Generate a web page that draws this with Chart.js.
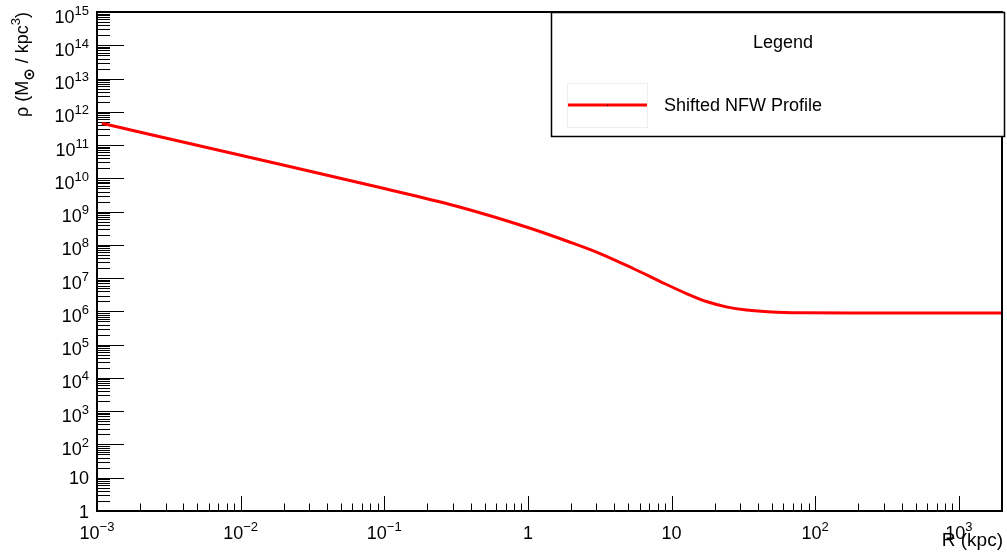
<!DOCTYPE html>
<html>
<head>
<meta charset="utf-8">
<script src="https://cdn.jsdelivr.net/npm/chart.js@4.4.1/dist/chart.umd.min.js"></script>
<style>
  html, body { margin: 0; padding: 0; background: #fff; }
  #wrap { width: 1007px; height: 560px; }
</style>
</head>
<body>
<div id="wrap"><canvas id="profile" width="1007" height="560"></canvas></div>
<script>
// density profile: radius in kpc, density in M_sun / kpc^3
const radius  = [0.00108, 0.01, 0.1, 0.315, 1.0, 1.905, 3.24, 5.50, 8.49, 12.7, 17.5, 24.1, 33.3, 49.7, 80.5, 180, 2000];
const density = [4.50e11, 4.94e10, 4.93e9, 1.47e9, 3.32e8, 1.26e8, 5.31e7, 1.88e7, 7.64e6, 3.44e6, 1.98e6, 1.37e6, 1.10e6, 9.58e5, 9.06e5, 8.94e5, 8.94e5];

// axis decades and their labels ("base^exponent")
const xDecades = [-3, -2, -1, 0, 1, 2, 3];
const xTickLabels = ['10^−3', '10^−2', '10^−1', '1', '10', '10^2', '10^3'];
const yDecades = [0, 1, 2, 3, 4, 5, 6, 7, 8, 9, 10, 11, 12, 13, 14, 15];
const yTickLabels = ['1', '10', '10^2', '10^3', '10^4', '10^5', '10^6', '10^7', '10^8', '10^9',
                     '10^10', '10^11', '10^12', '10^13', '10^14', '10^15'];

const FONT = '"Liberation Sans", Arial, Helvetica, sans-serif';
const BASE_SIZE = 18;
const SUP_SIZE = 13;

// draws "10^n" style text; align is 'right' or 'center'
function drawPower(ctx, label, x, y, align) {
  const parts = label.split('^');
  ctx.font = BASE_SIZE + 'px ' + FONT;
  const wBase = ctx.measureText(parts[0]).width;
  let wSup = 0;
  if (parts[1]) {
    ctx.font = SUP_SIZE + 'px ' + FONT;
    wSup = ctx.measureText(parts[1]).width;
  }
  const total = wBase + wSup;
  let x0 = align === 'right' ? x - total : x - total / 2;
  ctx.textAlign = 'left';
  ctx.textBaseline = 'alphabetic';
  ctx.font = BASE_SIZE + 'px ' + FONT;
  ctx.fillText(parts[0], x0, y);
  if (parts[1]) {
    ctx.font = SUP_SIZE + 'px ' + FONT;
    ctx.fillText(parts[1], x0 + wBase, y - 8);
  }
}

const rootAxes = {
  id: 'rootAxes',
  beforeDatasetsDraw(chart) {
    const { ctx, chartArea: a, scales: { x, y } } = chart;
    ctx.save();
    ctx.strokeStyle = '#000';
    ctx.lineWidth = 1;
    ctx.beginPath();
    // y ticks: major + 2..9 minors per decade, drawn inward from the left axis
    yDecades.forEach(e => {
      for (let k = 1; k <= 9; k++) {
        const v = k * Math.pow(10, e);
        if (v > y.max) break;
        const py = Math.round(y.getPixelForValue(v)) + 0.5;
        const len = k === 1 ? 27 : 13;
        ctx.moveTo(a.left, py);
        ctx.lineTo(a.left + len, py);
      }
    });
    // x ticks
    xDecades.forEach(e => {
      for (let k = 1; k <= 9; k++) {
        const v = k * Math.pow(10, e);
        if (v > x.max) break;
        const px = Math.round(x.getPixelForValue(v)) + 0.5;
        const len = k === 1 ? 15 : 7.5;
        ctx.moveTo(px, a.bottom);
        ctx.lineTo(px, a.bottom - len);
      }
    });
    ctx.stroke();
    ctx.restore();
  },
  afterDraw(chart) {
    const { ctx, chartArea: a, scales: { x, y } } = chart;
    ctx.save();
    ctx.fillStyle = '#000';

    // frame
    ctx.strokeStyle = '#000';
    ctx.lineWidth = 2;
    ctx.strokeRect(a.left, a.top, a.right - a.left, a.bottom - a.top);

    // tick labels
    yDecades.forEach((e, i) => {
      const py = y.getPixelForValue(Math.pow(10, e));
      const lab = yTickLabels[i];
      drawPower(ctx, lab, 89, py + (lab.includes('^') ? 10.5 : 6.5), 'right');
    });
    xDecades.forEach((e, i) => {
      const px = x.getPixelForValue(Math.pow(10, e));
      drawPower(ctx, xTickLabels[i], px, 539, 'center');
    });

    // x title, right aligned at the end of the axis
    ctx.font = '19px ' + FONT;
    ctx.textAlign = 'right';
    ctx.textBaseline = 'alphabetic';
    ctx.fillText('R (kpc)', a.right + 1, 546);

    // y title, rotated, ending at the top of the axis
    ctx.save();
    ctx.translate(28, 117);
    ctx.rotate(-Math.PI / 2);
    ctx.textAlign = 'left';
    let cx = 0;
    const seg = (txt, font, dy) => {
      ctx.font = font;
      ctx.fillText(txt, cx, dy);
      cx += ctx.measureText(txt).width;
    };
    seg('ρ (M', BASE_SIZE + 'px ' + FONT, 0);
    seg('⊙', 'bold 15px "DejaVu Sans", sans-serif', 6);
    seg(' / kpc', BASE_SIZE + 'px ' + FONT, 0);
    seg('3', SUP_SIZE + 'px ' + FONT, -8);
    seg(')', BASE_SIZE + 'px ' + FONT, 0);
    ctx.restore();

    // legend box
    const ds = chart.data.datasets[0];
    const lx = 551, ly = 12, lw = 453, lh = 124;
    ctx.fillStyle = '#fff';
    ctx.fillRect(lx, ly, lw, lh);
    ctx.strokeStyle = '#000';
    ctx.lineWidth = 1.5;
    ctx.strokeRect(lx + 0.5, ly + 0.5, lw, lh);
    ctx.fillStyle = '#000';
    ctx.font = BASE_SIZE + 'px ' + FONT;
    ctx.textAlign = 'center';
    ctx.fillText('Legend', 783, 48);
    ctx.strokeStyle = '#eeeeee';
    ctx.lineWidth = 1;
    ctx.strokeRect(567.5, 83.5, 80, 44);
    ctx.strokeStyle = ds.borderColor;
    ctx.lineWidth = 3;
    ctx.beginPath();
    ctx.moveTo(568, 105);
    ctx.lineTo(647, 105);
    ctx.stroke();
    ctx.fillStyle = '#000';
    ctx.fillRect(607, 105, 1, 1);
    ctx.textAlign = 'left';
    ctx.fillText(ds.label, 664, 111);
    ctx.restore();
  }
};

new Chart(document.getElementById('profile'), {
  type: 'line',
  data: {
    datasets: [{
      label: 'Shifted NFW Profile',
      data: radius.map((r, i) => ({ x: r, y: density[i] })),
      borderColor: '#ff0000',
      borderWidth: 3,
      pointRadius: 0,
      cubicInterpolationMode: 'monotone',
      fill: false
    }]
  },
  options: {
    responsive: false,
    animation: false,
    events: [],
    layout: { padding: { left: 97, top: 12, right: 5, bottom: 49 } },
    plugins: { legend: { display: false }, tooltip: { enabled: false } },
    scales: {
      x: { type: 'logarithmic', min: 0.001, max: 2000, display: false },
      y: { type: 'logarithmic', min: 1, max: 1e15, display: false }
    }
  },
  plugins: [rootAxes]
});
</script>
</body>
</html>
